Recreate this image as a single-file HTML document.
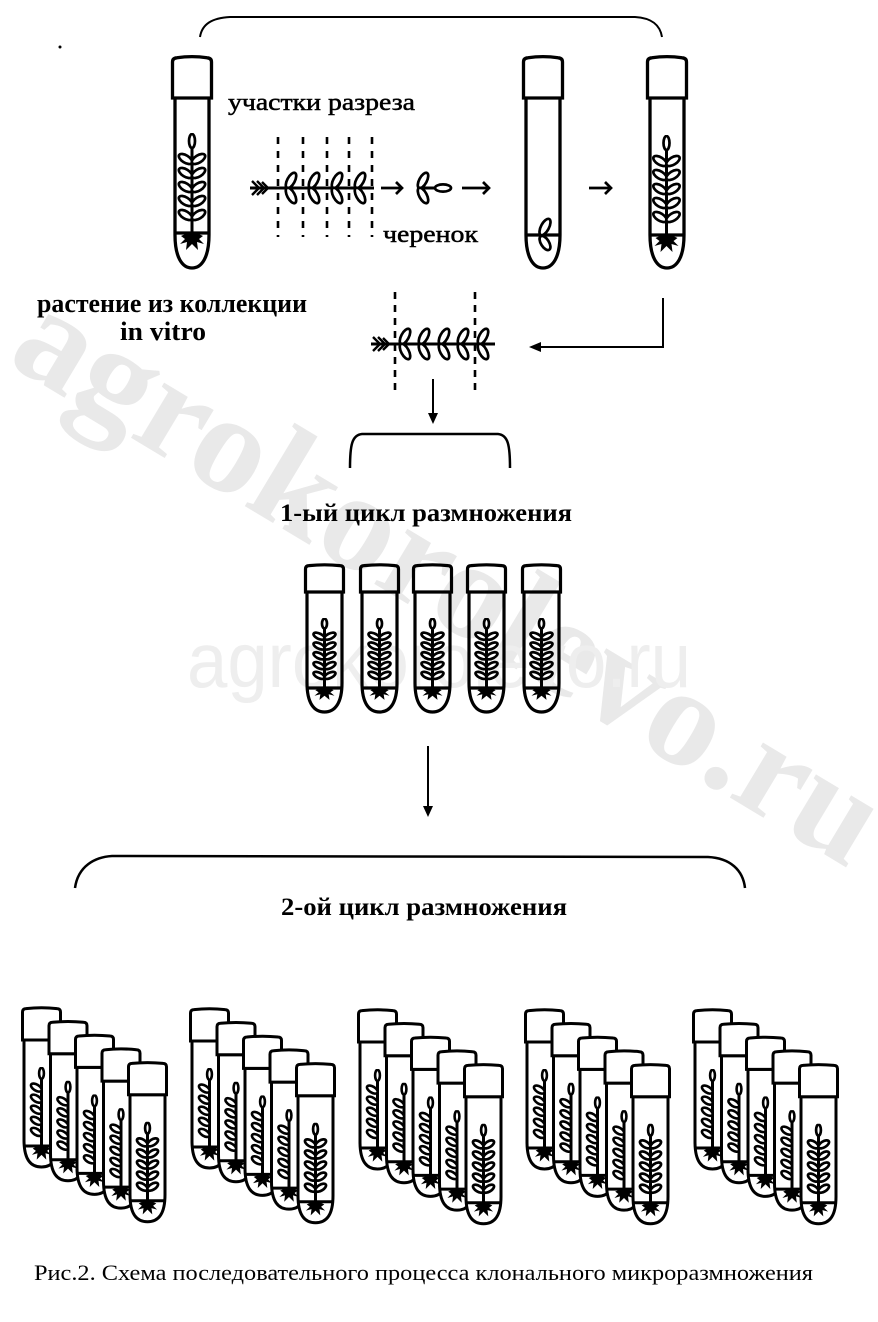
<!DOCTYPE html>
<html><head><meta charset="utf-8">
<style>html,body{margin:0;padding:0;background:#fff;}svg{display:block}</style>
</head><body>
<svg width="878" height="1322" viewBox="0 0 878 1322" xmlns="http://www.w3.org/2000/svg">
<defs>
  <symbol id="plant" viewBox="0 0 30 120" preserveAspectRatio="none">
    <g fill="#fff" stroke="#000" stroke-width="2.7">
      <line x1="15" y1="12" x2="15" y2="100" stroke-width="3" vector-effect="non-scaling-stroke"/>
      <ellipse cx="15" cy="8" rx="3" ry="7" vector-effect="non-scaling-stroke"/>
      <ellipse cx="8.5" cy="26" rx="7.5" ry="3.7" transform="rotate(32 8.5 26)" vector-effect="non-scaling-stroke"/>
      <ellipse cx="8.5" cy="40" rx="7.5" ry="3.7" transform="rotate(32 8.5 40)" vector-effect="non-scaling-stroke"/>
      <ellipse cx="8.5" cy="54" rx="7.5" ry="3.7" transform="rotate(32 8.5 54)" vector-effect="non-scaling-stroke"/>
      <ellipse cx="8.5" cy="68" rx="7.5" ry="3.7" transform="rotate(32 8.5 68)" vector-effect="non-scaling-stroke"/>
      <ellipse cx="8.5" cy="82" rx="7.5" ry="3.7" transform="rotate(32 8.5 82)" vector-effect="non-scaling-stroke"/>
      <ellipse cx="21.5" cy="26" rx="7.5" ry="3.7" transform="rotate(-32 21.5 26)" vector-effect="non-scaling-stroke"/>
      <ellipse cx="21.5" cy="40" rx="7.5" ry="3.7" transform="rotate(-32 21.5 40)" vector-effect="non-scaling-stroke"/>
      <ellipse cx="21.5" cy="54" rx="7.5" ry="3.7" transform="rotate(-32 21.5 54)" vector-effect="non-scaling-stroke"/>
      <ellipse cx="21.5" cy="68" rx="7.5" ry="3.7" transform="rotate(-32 21.5 68)" vector-effect="non-scaling-stroke"/>
      <ellipse cx="21.5" cy="82" rx="7.5" ry="3.7" transform="rotate(-32 21.5 82)" vector-effect="non-scaling-stroke"/>
    </g>
    <path d="M15,98 L4,103 L8,106 L3,111 L10,109 L9,117 L15,111 L21,117 L20,109 L27,111 L22,106 L26,103 Z" fill="#000"/>
  </symbol>
  <symbol id="plantL" viewBox="0 0 30 120" preserveAspectRatio="none">
    <g fill="#fff" stroke="#000" stroke-width="2.6">
      <line x1="15" y1="12" x2="15" y2="100" stroke-width="3" vector-effect="non-scaling-stroke"/>
      <ellipse cx="15" cy="8" rx="3" ry="7" vector-effect="non-scaling-stroke"/>
      <ellipse cx="8.5" cy="26" rx="7.5" ry="3.8" transform="rotate(32 8.5 26)" vector-effect="non-scaling-stroke"/>
      <ellipse cx="8.5" cy="40" rx="7.5" ry="3.8" transform="rotate(32 8.5 40)" vector-effect="non-scaling-stroke"/>
      <ellipse cx="8.5" cy="54" rx="7.5" ry="3.8" transform="rotate(32 8.5 54)" vector-effect="non-scaling-stroke"/>
      <ellipse cx="8.5" cy="68" rx="7.5" ry="3.8" transform="rotate(32 8.5 68)" vector-effect="non-scaling-stroke"/>
      <ellipse cx="8.5" cy="82" rx="7.5" ry="3.8" transform="rotate(32 8.5 82)" vector-effect="non-scaling-stroke"/>
    </g>
    <path d="M15,98 L4,103 L8,106 L3,111 L10,109 L9,117 L15,111 L21,117 L20,109 L27,111 L22,106 L26,103 Z" fill="#000"/>
  </symbol>

  <g id="tubeBig" fill="none" stroke="#000" stroke-width="3.3">
    <path d="M3,41 V178 C3,200 10,211 20,211 C30,211 37,200 37,178 V41"/>
    <path d="M0.5,5 Q0.5,1 5,0.8 Q20,-1.5 35,0.8 Q39.5,1 39.5,5 V41 H0.5 Z"/>
  </g>

  <g id="tubeMid">
    <g fill="none" stroke="#000" stroke-width="3.2">
      <path d="M2,27 V118 C2,138 9,147 19.5,147 C30,147 37,138 37,118 V27"/>
      <path d="M0.5,4 Q0.5,0.8 4,0.6 Q19.5,-1 35,0.6 Q38.5,0.8 38.5,4 V27 H0.5 Z"/>
      <path d="M2,123 H37"/>
    </g>
    <use href="#plant" x="7" y="53" width="25" height="84"/>
  </g>

  <g id="tubeBack">
    <path d="M2,32 V132 C2,152 9,159 19.5,159 C30,159 37,152 37,132 V32 Z" fill="#fff" stroke="#000" stroke-width="3"/>
    <path d="M2,138 H37" stroke="#000" stroke-width="3"/>
    <use href="#plantL" x="7.5" y="59" width="24" height="95"/>
    <path d="M0.5,4 Q0.5,0.8 4,0.6 Q19.5,-1 35,0.6 Q38.5,0.8 38.5,4 V32 H0.5 Z" fill="#fff" stroke="#000" stroke-width="3"/>
  </g>
  <g id="tubeFront">
    <path d="M2,32 V132 C2,152 9,159 19.5,159 C30,159 37,152 37,132 V32 Z" fill="#fff" stroke="#000" stroke-width="3"/>
    <path d="M2,138 H37" stroke="#000" stroke-width="3"/>
    <use href="#plant" x="7.5" y="59" width="24" height="95"/>
    <path d="M0.5,4 Q0.5,0.8 4,0.6 Q19.5,-1 35,0.6 Q38.5,0.8 38.5,4 V32 H0.5 Z" fill="#fff" stroke="#000" stroke-width="3"/>
  </g>

  <g id="group">
    <use href="#tubeBack" x="0" y="0"/>
    <use href="#tubeBack" x="26.5" y="13.7"/>
    <use href="#tubeBack" x="53" y="27.4"/>
    <use href="#tubeBack" x="79.5" y="41.1"/>
    <use href="#tubeFront" x="106" y="54.8"/>
  </g>

  <g id="leafPair" fill="#fff" stroke="#000" stroke-width="2.7">
    <ellipse cx="4" cy="-7.5" rx="8.5" ry="3.8" transform="rotate(-62 4 -7.5)"/>
    <ellipse cx="4" cy="7.5" rx="8.5" ry="3.8" transform="rotate(62 4 7.5)"/>
  </g>
</defs>

<!-- watermarks -->
<text transform="translate(5,362) rotate(31)" x="0" y="0" font-family="Liberation Serif, serif" font-weight="bold" font-size="140" fill="#e9e9e9" textLength="985" lengthAdjust="spacingAndGlyphs">agrokorolevo.ru</text>
<text x="187" y="687" font-family="Liberation Sans, sans-serif" font-size="78" fill="#eeeeee" textLength="504" lengthAdjust="spacingAndGlyphs">agrokorolevo.ru</text>

<!-- speck -->
<circle cx="60" cy="47" r="1.5" fill="#000"/>

<!-- top brace -->
<path d="M200,37 C202,24 212,18 230,17 L635,17 C652,18 660,25 662,37" fill="none" stroke="#000" stroke-width="2"/>

<!-- top tubes -->
<use href="#tubeBig" x="172" y="57"/>
<use href="#tubeBig" x="523" y="57"/>
<use href="#tubeBig" x="647" y="57"/>
<path d="M175,233 H209 M526,235 H560 M650,235 H684" stroke="#000" stroke-width="3.3"/>
<use href="#plant" x="177" y="133" width="30" height="120"/>
<use href="#plant" x="651.5" y="135" width="30" height="120"/>
<!-- cutting in tube 2 -->
<g fill="#fff" stroke="#000" stroke-width="2.7">
  <ellipse cx="545" cy="227" rx="9" ry="4" transform="rotate(-62 545 227)"/>
  <ellipse cx="545" cy="243" rx="8" ry="4" transform="rotate(58 545 243)"/>
</g>

<!-- top cutting row -->
<g stroke="#000" stroke-width="3" fill="none">
  <line x1="250" y1="188" x2="374" y2="188"/>
  <polyline points="252,181 259,188 252,195" stroke-width="2.4"/>
  <polyline points="257,181 264,188 257,195" stroke-width="2.4"/>
  <polyline points="262,182 268,188 262,194" stroke-width="2.4"/>
</g>
<use href="#leafPair" x="287" y="188"/>
<use href="#leafPair" x="310" y="188"/>
<use href="#leafPair" x="333" y="188"/>
<use href="#leafPair" x="356" y="188"/>
<g stroke="#000" stroke-width="2.6" stroke-dasharray="7 7">
  <line x1="278" y1="137" x2="278" y2="237"/>
  <line x1="303" y1="137" x2="303" y2="237"/>
  <line x1="327" y1="137" x2="327" y2="237"/>
  <line x1="349" y1="137" x2="349" y2="237"/>
  <line x1="372" y1="137" x2="372" y2="237"/>
</g>
<!-- small arrows -->
<g stroke="#000" stroke-width="2.7" fill="none">
  <line x1="381" y1="188" x2="402" y2="188"/><polyline points="396,182 402,188 396,194"/>
  <line x1="462" y1="188" x2="489" y2="188"/><polyline points="483,182 489,188 483,194"/>
  <line x1="589" y1="188" x2="611" y2="188"/><polyline points="605,182 611,188 605,194"/>
</g>
<!-- single cutting -->
<line x1="419" y1="188" x2="437" y2="188" stroke="#000" stroke-width="3"/>
<use href="#leafPair" x="419" y="188"/>
<ellipse cx="443" cy="188" rx="8" ry="3.6" fill="#fff" stroke="#000" stroke-width="2.7"/>

<!-- labels -->
<g font-family="Liberation Serif, serif" fill="#000">
  <text x="228" y="110" font-size="24" stroke="#000" stroke-width="0.5" textLength="187" lengthAdjust="spacingAndGlyphs">участки разреза</text>
  <text x="383" y="242" font-size="24" stroke="#000" stroke-width="0.5" textLength="95" lengthAdjust="spacingAndGlyphs">черенок</text>
  <text x="37" y="312" font-size="26" font-weight="bold" textLength="270" lengthAdjust="spacingAndGlyphs">растение из коллекции</text>
  <text x="120" y="340" font-size="26" font-weight="bold" textLength="86" lengthAdjust="spacingAndGlyphs">in vitro</text>
  <text x="280" y="521" font-size="25" font-weight="bold" textLength="292" lengthAdjust="spacingAndGlyphs">1-ый цикл размножения</text>
  <text x="281" y="915" font-size="25" font-weight="bold" textLength="286" lengthAdjust="spacingAndGlyphs">2-ой цикл размножения</text>
  <text x="34" y="1280" font-size="22" textLength="779" lengthAdjust="spacingAndGlyphs">Рис.2. Схема последовательного процесса клонального микроразмножения</text>
</g>

<!-- return connector -->
<polyline points="663,298 663,347 538,347" fill="none" stroke="#000" stroke-width="2"/>
<polygon points="529,347 541,342 541,352" fill="#000"/>

<!-- middle cutting -->
<g stroke="#000" stroke-width="3" fill="none">
  <line x1="371" y1="344" x2="495" y2="344"/>
  <polyline points="373,337 380,344 373,351" stroke-width="2.4"/>
  <polyline points="378,337 385,344 378,351" stroke-width="2.4"/>
  <polyline points="383,338 389,344 383,350" stroke-width="2.4"/>
</g>
<use href="#leafPair" x="401" y="344"/>
<use href="#leafPair" x="420" y="344"/>
<use href="#leafPair" x="440" y="344"/>
<use href="#leafPair" x="459" y="344"/>
<use href="#leafPair" x="479" y="344"/>
<g stroke="#000" stroke-width="2.6" stroke-dasharray="7 6">
  <line x1="395" y1="292" x2="395" y2="390"/>
  <line x1="475" y1="292" x2="475" y2="390"/>
</g>

<!-- down arrow 1 -->
<line x1="433" y1="379" x2="433" y2="414" stroke="#000" stroke-width="2"/>
<polygon points="428,413 438,413 433,424" fill="#000"/>

<!-- middle brace -->
<path d="M350,468 C350,445 352,435 362,434 L498,434 C508,435 510,445 510,468" fill="none" stroke="#000" stroke-width="2.5"/>

<!-- 1st cycle tubes -->
<use href="#tubeMid" x="305" y="565"/>
<use href="#tubeMid" x="360" y="565"/>
<use href="#tubeMid" x="413" y="565"/>
<use href="#tubeMid" x="467" y="565"/>
<use href="#tubeMid" x="522" y="565"/>

<!-- down arrow 2 -->
<line x1="428" y1="746" x2="428" y2="807" stroke="#000" stroke-width="2"/>
<polygon points="423,806 433,806 428,817" fill="#000"/>

<!-- bottom brace -->
<path d="M75,888 C78,866 95,857 112,856 L708,857 C730,858 743,870 745,888" fill="none" stroke="#000" stroke-width="2.5"/>

<!-- 2nd cycle groups -->
<use href="#group" x="22" y="1008"/>
<use href="#group" x="190" y="1009"/>
<use href="#group" x="358" y="1010"/>
<use href="#group" x="525" y="1010"/>
<use href="#group" x="693" y="1010"/>
</svg>
</body></html>
